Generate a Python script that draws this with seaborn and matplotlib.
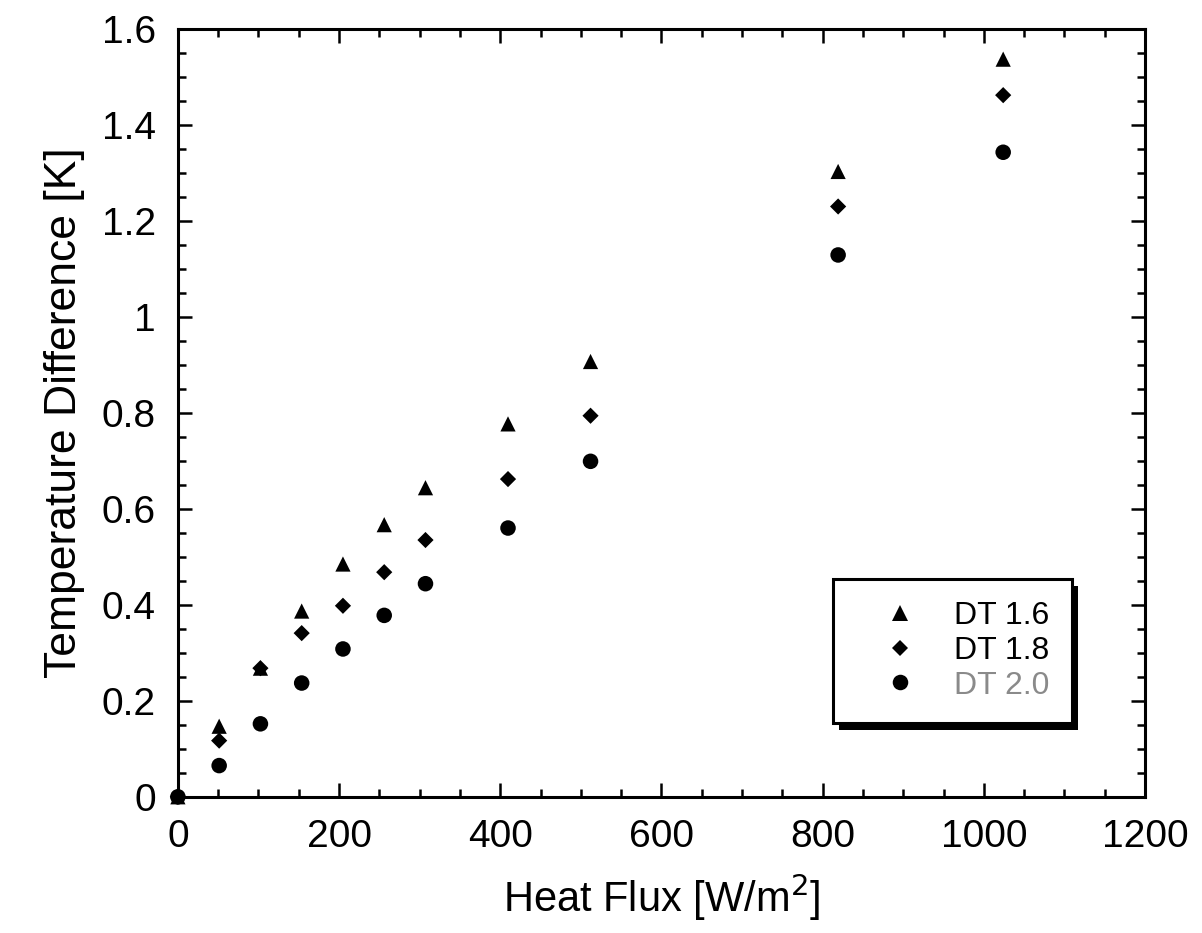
import pandas as pd
import seaborn as sns
import matplotlib.pyplot as plt
from matplotlib.ticker import MultipleLocator, FuncFormatter
from matplotlib.patches import Rectangle

# heat flux [W/m2]
heat_flux = [0, 51.2, 102.4, 153.6, 204.8, 256, 307.2, 409.6, 512, 819.2, 1024]
# temperature difference [K]
dt16 = [0, 0.147, 0.268, 0.387, 0.485, 0.567, 0.644, 0.777, 0.907, 1.303, 1.537]
dt18 = [0, 0.117, 0.268, 0.341, 0.398, 0.468, 0.535, 0.662, 0.794, 1.230, 1.462]
dt20 = [0, 0.065, 0.152, 0.237, 0.308, 0.378, 0.444, 0.560, 0.699, 1.129, 1.343]
series = ["DT 1.6", "DT 1.8", "DT 2.0"]

df = pd.DataFrame({
    "q": heat_flux * 3,
    "dT": dt16 + dt18 + dt20,
    "case": [s for s in series for _ in heat_flux],
})

sns.set_style("ticks")
plt.rcParams["font.family"] = ["Liberation Sans", "DejaVu Sans"]
plt.rcParams["text.color"] = "black"
plt.rcParams["axes.labelcolor"] = "black"
plt.rcParams["xtick.color"] = "black"
plt.rcParams["ytick.color"] = "black"

fig = plt.figure(figsize=(12.02, 9.33), dpi=100)
ax = fig.add_axes([0.148, 0.146, 0.8046, 0.823])

sns.scatterplot(data=df, x="q", y="dT", style="case", color="black",
                markers={"DT 1.6": "^", "DT 1.8": "D", "DT 2.0": "o"},
                size="case", sizes={"DT 1.6": 120, "DT 1.8": 68, "DT 2.0": 125},
                linewidth=0, clip_on=False, zorder=3, ax=ax)

ax.set_xlim(0, 1200)
ax.set_ylim(0, 1.6)
ax.xaxis.set_major_locator(MultipleLocator(200))
ax.xaxis.set_minor_locator(MultipleLocator(50))
ax.yaxis.set_major_locator(MultipleLocator(0.2))
ax.yaxis.set_minor_locator(MultipleLocator(0.05))
ax.yaxis.set_major_formatter(FuncFormatter(lambda v, p: "%g" % round(v, 2)))

for s in ax.spines.values():
    s.set_linewidth(2.2)
    s.set_color("black")
ax.tick_params(which="both", direction="in", top=True, right=True,
               width=1.8, color="black")
ax.tick_params(which="major", length=10, labelsize=28, pad=16)
ax.tick_params(which="minor", length=6)

ax.set_xlabel("Heat Flux [W/m$^2$]", fontsize=30, labelpad=12)
ax.set_ylabel("Temperature Difference [K]", fontsize=32, labelpad=12)

handles, labels = ax.get_legend_handles_labels()
keep = [(h, l) for h, l in zip(handles, labels) if l in series]
leg = ax.legend([h for h, l in keep], [l for h, l in keep],
                loc="upper left", bbox_to_anchor=(0.677, 0.284),
                fontsize=23, frameon=True, fancybox=False, shadow=False,
                borderpad=0.7, handlelength=2.8, handletextpad=0.3,
                labelspacing=0.15, borderaxespad=0)
leg.get_frame().set_edgecolor("black")
leg.get_frame().set_linewidth(2.2)
leg.get_frame().set_alpha(1)
leg.get_texts()[2].set_color("#8a8a8a")

# drop shadow under the legend box
fig.canvas.draw()
bb = leg.get_window_extent().transformed(ax.transAxes.inverted())
dx = 6 / ax.get_window_extent().width
dy = 7 / ax.get_window_extent().height
ax.add_patch(Rectangle((bb.x0 + dx, bb.y0 - dy), bb.width, bb.height,
                       transform=ax.transAxes, facecolor="black",
                       edgecolor="none", clip_on=False, zorder=4.9))

fig.savefig("out.png", dpi=100)
